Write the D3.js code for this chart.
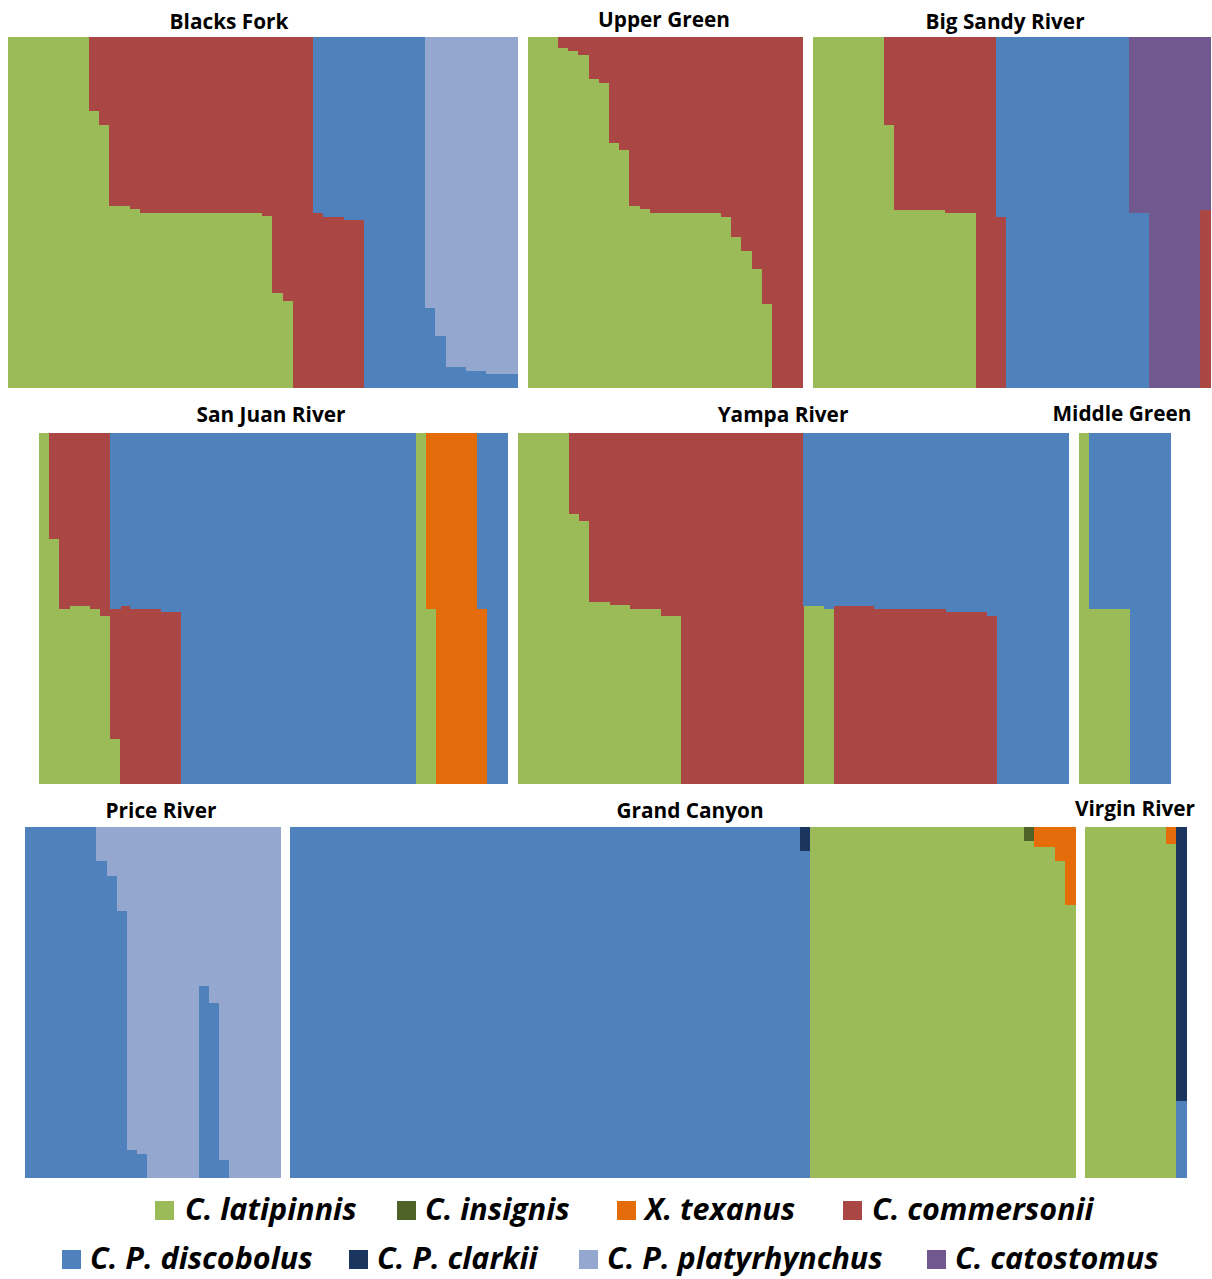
<!DOCTYPE html>
<html><head><meta charset="utf-8">
<script src="https://cdn.jsdelivr.net/npm/d3@7"></script>
<style>
html,body{margin:0;padding:0;background:#fff;}
svg{display:block;}
</style></head>
<body>
<svg id="chart" width="1212" height="1279"></svg>
<script>
// ---------- DATA ----------
const clusters = ["lat","ins","tex","com","dis","cla","pla","cat"];
const clusterLabels = ["C. latipinnis","C. insignis","X. texanus","C. commersonii","C. P. discobolus","C. P. clarkii","C. P. platyrhynchus","C. catostomus"];
const panelNames = ["Blacks Fork","Upper Green","Big Sandy River","San Juan River","Yampa River","Middle Green","Price River","Grand Canyon","Virgin River"];

const blacksFork = [
 {lat:1},{lat:1},{lat:1},{lat:1},{lat:1},{lat:1},{lat:1},{lat:1},
 {lat:.789,com:.211},{lat:.75,com:.25},{lat:.518,com:.482},{lat:.518,com:.482},{lat:.509,com:.491},
 {lat:.499,com:.501},{lat:.499,com:.501},{lat:.499,com:.501},{lat:.499,com:.501},{lat:.499,com:.501},{lat:.499,com:.501},
 {lat:.499,com:.501},{lat:.499,com:.501},{lat:.499,com:.501},{lat:.499,com:.501},{lat:.499,com:.501},{lat:.499,com:.501},
 {lat:.489,com:.511},{lat:.27,com:.73},{lat:.248,com:.752},
 {com:1},{com:1},
 {com:.499,dis:.501},{com:.488,dis:.512},{com:.488,dis:.512},{com:.478,dis:.522},{com:.478,dis:.522},
 {dis:1},{dis:1},{dis:1},{dis:1},{dis:1},{dis:1},
 {dis:.228,pla:.772},{dis:.148,pla:.852},{dis:.059,pla:.941},{dis:.059,pla:.941},
 {dis:.049,pla:.951},{dis:.049,pla:.951},{dis:.039,pla:.961},{dis:.039,pla:.961},{dis:.039,pla:.961}
];
const upperGreen = [
 {lat:1},{lat:1},{lat:1},
 {lat:.97,com:.03},{lat:.96,com:.04},{lat:.95,com:.05},{lat:.88,com:.12},{lat:.87,com:.13},
 {lat:.699,com:.301},{lat:.679,com:.321},{lat:.518,com:.482},{lat:.509,com:.491},
 {lat:.499,com:.501},{lat:.499,com:.501},{lat:.499,com:.501},{lat:.499,com:.501},{lat:.499,com:.501},{lat:.499,com:.501},{lat:.499,com:.501},
 {lat:.488,com:.512},{lat:.429,com:.571},{lat:.389,com:.611},{lat:.34,com:.66},{lat:.239,com:.761},
 {com:1},{com:1},{com:1}
];
const bigSandy = [
 {lat:1},{lat:1},{lat:1},{lat:1},{lat:1},{lat:1},{lat:1},
 {lat:.75,com:.25},
 {lat:.508,com:.492},{lat:.508,com:.492},{lat:.508,com:.492},{lat:.508,com:.492},{lat:.508,com:.492},
 {lat:.498,com:.502},{lat:.498,com:.502},{lat:.498,com:.502},
 {com:1},{com:1},
 {com:.488,dis:.512},
 {dis:1},{dis:1},{dis:1},{dis:1},{dis:1},{dis:1},{dis:1},{dis:1},{dis:1},{dis:1},{dis:1},{dis:1},
 {dis:.498,cat:.502},{dis:.498,cat:.502},
 {cat:1},{cat:1},{cat:1},{cat:1},{cat:1},
 {com:.508,cat:.492}
];
const sanJuan = [
 {lat:1},
 {lat:.699,com:.301},{lat:.499,com:.501},{lat:.508,com:.492},{lat:.508,com:.492},{lat:.499,com:.501},{lat:.479,com:.521},
 {lat:.129,com:.37,dis:.501},
 {com:.508,dis:.492},{com:.499,dis:.501},{com:.499,dis:.501},{com:.499,dis:.501},{com:.49,dis:.51},{com:.49,dis:.51},
 {dis:1},{dis:1},{dis:1},{dis:1},{dis:1},{dis:1},{dis:1},{dis:1},{dis:1},{dis:1},{dis:1},{dis:1},
 {dis:1},{dis:1},{dis:1},{dis:1},{dis:1},{dis:1},{dis:1},{dis:1},{dis:1},{dis:1},{dis:1},
 {lat:1},
 {lat:.499,tex:.501},
 {tex:1},{tex:1},{tex:1},{tex:1},
 {tex:.499,dis:.501},
 {dis:1},{dis:1}
];
const yampa = [
 {lat:1},{lat:1},{lat:1},{lat:1},{lat:1},
 {lat:.77,com:.23},{lat:.75,com:.25},{lat:.518,com:.482},{lat:.518,com:.482},
 {lat:.509,com:.491},{lat:.509,com:.491},{lat:.499,com:.501},{lat:.499,com:.501},{lat:.499,com:.501},
 {lat:.479,com:.521},{lat:.479,com:.521},
 {com:1},{com:1},{com:1},{com:1},{com:1},{com:1},{com:1},{com:1},{com:1},{com:1},{com:1},{com:1},
 {lat:.508,dis:.492},{lat:.508,dis:.492},{lat:.499,dis:.501},
 {com:.508,dis:.492},{com:.508,dis:.492},{com:.508,dis:.492},{com:.508,dis:.492},
 {com:.499,dis:.501},{com:.499,dis:.501},{com:.499,dis:.501},{com:.499,dis:.501},{com:.499,dis:.501},{com:.499,dis:.501},{com:.499,dis:.501},
 {com:.49,dis:.51},{com:.49,dis:.51},{com:.49,dis:.51},{com:.49,dis:.51},
 {com:.479,dis:.521},
 {dis:1},{dis:1},{dis:1},{dis:1},{dis:1},{dis:1},{dis:1}
];
const middleGreen = [
 {lat:1},
 {lat:.499,dis:.501},{lat:.499,dis:.501},{lat:.499,dis:.501},{lat:.499,dis:.501},
 {dis:1},{dis:1},{dis:1},{dis:1}
];
const priceRiver = [
 {dis:1},{dis:1},{dis:1},{dis:1},{dis:1},{dis:1},{dis:1},
 {dis:.903,pla:.097},{dis:.861,pla:.139},{dis:.76,pla:.24},{dis:.08,pla:.92},{dis:.069,pla:.931},
 {pla:1},{pla:1},{pla:1},{pla:1},{pla:1},
 {dis:.548,pla:.452},{dis:.499,pla:.501},{dis:.05,pla:.95},
 {pla:1},{pla:1},{pla:1},{pla:1},{pla:1}
];
const grandCanyon = [
 {dis:1},{dis:1},{dis:1},{dis:1},{dis:1},{dis:1},{dis:1},{dis:1},{dis:1},{dis:1},
 {dis:1},{dis:1},{dis:1},{dis:1},{dis:1},{dis:1},{dis:1},{dis:1},{dis:1},{dis:1},
 {dis:1},{dis:1},{dis:1},{dis:1},{dis:1},{dis:1},{dis:1},{dis:1},{dis:1},{dis:1},
 {dis:1},{dis:1},{dis:1},{dis:1},{dis:1},{dis:1},{dis:1},{dis:1},{dis:1},{dis:1},
 {dis:1},{dis:1},{dis:1},{dis:1},{dis:1},{dis:1},{dis:1},{dis:1},{dis:1},{dis:1},
 {dis:.932,cla:.068},
 {lat:1},{lat:1},{lat:1},{lat:1},{lat:1},{lat:1},{lat:1},{lat:1},{lat:1},{lat:1},
 {lat:1},{lat:1},{lat:1},{lat:1},{lat:1},{lat:1},{lat:1},{lat:1},{lat:1},{lat:1},{lat:1},
 {lat:.961,ins:.039},
 {lat:.942,tex:.058},{lat:.942,tex:.058},{lat:.902,tex:.098},{lat:.779,tex:.221}
];
const virginRiver = [
 {lat:1},{lat:1},{lat:1},{lat:1},{lat:1},{lat:1},{lat:1},{lat:1},
 {lat:.952,tex:.048},
 {dis:.218,cla:.782}
];
const panelData = [blacksFork, upperGreen, bigSandy, sanJuan, yampa, middleGreen, priceRiver, grandCanyon, virginRiver];

// ---------- STYLE / LAYOUT ----------
const clusterColors = ["#9BBB59","#4F6228","#E46C0A","#AA4745","#4F81BD","#1B365E","#94A8CF","#71588F"];
const panelBoxes = [
 {x0:7.5,  x1:517,   y0:37,  y1:388, tx:229,  ty:29},
 {x0:527.5,x1:802.5, y0:37,  y1:388, tx:664,  ty:27},
 {x0:813,  x1:1210,  y0:37,  y1:388, tx:1005, ty:29},
 {x0:38.7, x1:507.7, y0:433, y1:784, tx:271,  ty:422},
 {x0:518,  x1:1068,  y0:433, y1:784, tx:783,  ty:422},
 {x0:1079, x1:1170,  y0:433, y1:784, tx:1122, ty:421},
 {x0:25,   x1:280,   y0:827, y1:1178,tx:161,  ty:818},
 {x0:290,  x1:1075,  y0:827, y1:1178,tx:690,  ty:818},
 {x0:1085, x1:1186,  y0:827, y1:1178,tx:1135, ty:816}
];
const legendPos = [
 {sx:155,tx:185,y:1210},{sx:397,tx:425,y:1210},{sx:617,tx:645,y:1210},{sx:843,tx:872,y:1210},
 {sx:62,tx:90,y:1259},{sx:349,tx:377,y:1259},{sx:579,tx:607,y:1259},{sx:927,tx:955,y:1259}
];

const color = d3.scaleOrdinal().domain(clusters).range(clusterColors);
const svg = d3.select("#chart");

panelData.forEach((data, pi) => {
  const b = panelBoxes[pi];
  const x = d3.scaleBand().domain(d3.range(data.length)).range([b.x0, b.x1]).padding(0);
  const y = d3.scaleLinear().domain([0, 1]).range([b.y1, b.y0]);
  const series = d3.stack().keys(clusters).value((d, k) => d[k] || 0)(data);
  const g = svg.append("g").attr("class", "panel");
  g.selectAll("g.series").data(series).join("g")
    .attr("class", "series")
    .attr("fill", s => color(s.key))
    .selectAll("rect")
    .data(s => s.filter(d => d[1] - d[0] > 0))
    .join("rect")
    .attr("shape-rendering", "crispEdges")
    .attr("x", d => x(data.indexOf(d.data)))
    .attr("width", x.bandwidth() + 0.5)
    .attr("y", d => y(d[1]))
    .attr("height", d => y(d[0]) - y(d[1]));
  svg.append("text")
    .attr("x", b.tx).attr("y", b.ty)
    .attr("text-anchor", "middle")
    .style("font-family", "'Open Sans', Lato, sans-serif")
    .style("font-weight", "bold")
    .style("font-size", "20.8px")
    .attr("fill", "#000")
    .text(panelNames[pi]);
});

// legend
const lg = svg.append("g").attr("class", "legend");
clusters.forEach((k, i) => {
  const p = legendPos[i];
  lg.append("rect").attr("x", p.sx).attr("y", p.y - 9).attr("width", 19).attr("height", 19)
    .attr("fill", color(k));
  lg.append("text").attr("x", p.tx).attr("y", p.y + 10)
    .style("font-family", "'Open Sans', Lato, sans-serif")
    .style("font-weight", "bold").style("font-style", "italic")
    .style("font-size", "30.5px").attr("fill", "#000")
    .text(clusterLabels[i]);
});
</script>
</body></html>
